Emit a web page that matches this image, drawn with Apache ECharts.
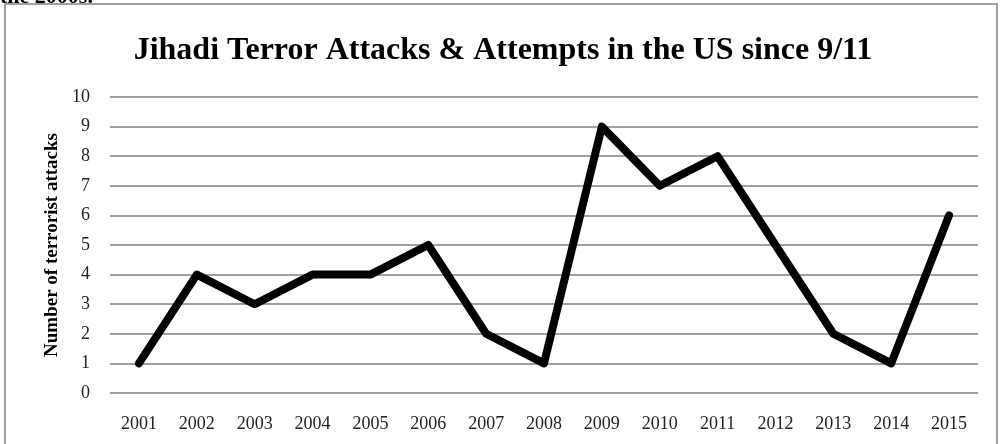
<!DOCTYPE html>
<html><head><meta charset="utf-8">
<script src="https://cdn.jsdelivr.net/npm/echarts@6/dist/echarts.min.js"></script>
<style>html,body{margin:0;padding:0;background:#fff}#c{width:1006px;height:444px}</style>
</head><body><div id="c"></div>
<script>
const years = ['2001','2002','2003','2004','2005','2006','2007','2008','2009','2010','2011','2012','2013','2014','2015'];
const attacks = [1,4,3,4,4,5,2,1,9,7,8,5,2,1,6];
const titleText = 'Jihadi Terror Attacks & Attempts in the US since 9/11';
const yAxisName = 'Number of terrorist attacks';
const serif = '"Liberation Serif","Times New Roman",serif';
const chart = echarts.init(document.getElementById('c'));
chart.setOption({
  animation:false,
  backgroundColor:'#fff',
  title:{text:titleText,left:'center',top:30,textStyle:{fontFamily:serif,fontWeight:'bold',fontSize:32,color:'#000'}},
  graphic:[
    {type:'rect',shape:{x:5,y:4,width:992,height:460},style:{fill:'none',stroke:'#a0a0a0',lineWidth:2},silent:true},
    {type:'text',x:0,y:0,style:{x:0,y:8,text:'the 2000s.',font:'bold 22px "Liberation Serif",serif',fill:'#000',verticalAlign:'bottom',align:'left'},silent:true}
  ],
  grid:{left:110,right:28,top:97,bottom:51},
  xAxis:{type:'category',data:years,boundaryGap:true,
    axisLine:{show:false},axisTick:{show:false},
    axisLabel:{fontFamily:serif,fontSize:18,color:'#222',margin:22}},
  yAxis:{type:'value',min:0,max:10,interval:1,
    name:yAxisName,nameLocation:'middle',nameGap:46,nameRotate:90,
    nameTextStyle:{fontFamily:serif,fontWeight:'bold',fontSize:19,color:'#000'},
    axisLine:{show:false},axisTick:{show:false},
    axisLabel:{fontFamily:serif,fontSize:18,color:'#222',margin:20},
    splitLine:{lineStyle:{color:'#a0a0a0',width:2}}},
  series:[{type:'line',data:attacks,symbol:'none',lineStyle:{color:'#000',width:8,join:'round',cap:'round'}}]
});
</script></body></html>
